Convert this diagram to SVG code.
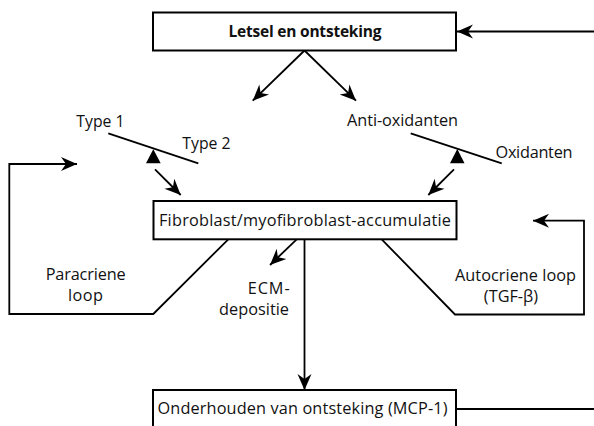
<svg xmlns="http://www.w3.org/2000/svg" width="594" height="426" viewBox="0 0 594 426">
<style>
  .box { fill: #fff; stroke: #000; stroke-width: 2; }
  .ln { fill: none; stroke: #000; stroke-width: 1.8; }
  .t { font-family: "Open Sans", "Liberation Sans", sans-serif; font-size: 16.3px; fill: #111; }
  .s { font-size: 15.8px; }
  .b { font-weight: bold; font-size: 15.5px; }
  .tri { fill: #000; }
</style>
<defs>
  <marker id="ah" markerUnits="userSpaceOnUse" viewBox="-16 -8 17 16" markerWidth="17" markerHeight="16" refX="0" refY="0" orient="auto" overflow="visible">
    <path d="M0,0 L-16,-7 L-11,0 L-16,7 Z" fill="#000"/>
  </marker>
</defs>
<rect width="594" height="426" fill="#fff"/>

<g id="connectors">
  <line class="ln" x1="594" y1="31.5" x2="457" y2="31.5" marker-end="url(#ah)"/>
  <line class="ln" x1="304.5" y1="50.5" x2="252.7" y2="100.7" marker-end="url(#ah)"/>
  <line class="ln" x1="304.5" y1="50.5" x2="356" y2="100.7" marker-end="url(#ah)"/>
  <line class="ln" x1="108.3" y1="133.3" x2="198.3" y2="163.3"/>
  <polygon class="tri" points="153.3,149.3 160.7,163.3 146,163.3"/>
  <line class="ln" x1="155" y1="169.3" x2="180.7" y2="195" marker-end="url(#ah)"/>
  <line class="ln" x1="410.7" y1="133.3" x2="501.7" y2="163.3"/>
  <polygon class="tri" points="457.3,149 464.5,163.3 450,163.3"/>
  <line class="ln" x1="454" y1="169.3" x2="428.3" y2="195" marker-end="url(#ah)"/>
  <polyline class="ln" points="228.3,239.3 153.3,314 9.3,314 9.3,164 77,164" marker-end="url(#ah)"/>
  <polyline class="ln" points="381.7,239.3 455,314.5 584,314.5 584,220.7 533,220.7" marker-end="url(#ah)"/>
  <line class="ln" x1="296.7" y1="239.3" x2="270" y2="265" marker-end="url(#ah)"/>
  <line class="ln" x1="304.5" y1="239.3" x2="304.5" y2="390" marker-end="url(#ah)"/>
  <line class="ln" x1="456" y1="409" x2="594" y2="409"/>
</g>

<g id="letsel">
  <rect class="box" x="153" y="12.5" width="303" height="38"/>
  <text class="t b" x="228.5" y="36.5" textLength="153">Letsel en ontsteking</text>
</g>
<g id="fibroblast">
  <rect class="box" x="153.5" y="201" width="303" height="38.3"/>
  <text class="t" x="159" y="226" textLength="292">Fibroblast/myofibroblast-accumulatie</text>
</g>
<g id="onderhouden">
  <rect class="box" x="153" y="390" width="303" height="50"/>
  <text class="t" x="157.5" y="413.5" textLength="290">Onderhouden van ontsteking (MCP-1)</text>
</g>
<g id="labels">
  <text class="t s" x="100.5" y="127" text-anchor="middle">Type 1</text>
  <text class="t s" x="206.5" y="149" text-anchor="middle">Type 2</text>
  <text class="t" x="347" y="126" textLength="111">Anti-oxidanten</text>
  <text class="t" x="495.5" y="158" textLength="77">Oxidanten</text>
  <text class="t" x="45.7" y="280" textLength="80">Paracriene</text>
  <text class="t" x="68" y="301" textLength="35">loop</text>
  <text class="t" x="247.7" y="294" textLength="42">ECM-</text>
  <text class="t" x="219" y="314.5" textLength="70">depositie</text>
  <text class="t" x="455" y="280.5" textLength="121">Autocriene loop</text>
  <text class="t" x="511" y="302" text-anchor="middle">(TGF-β)</text>
</g>
</svg>
